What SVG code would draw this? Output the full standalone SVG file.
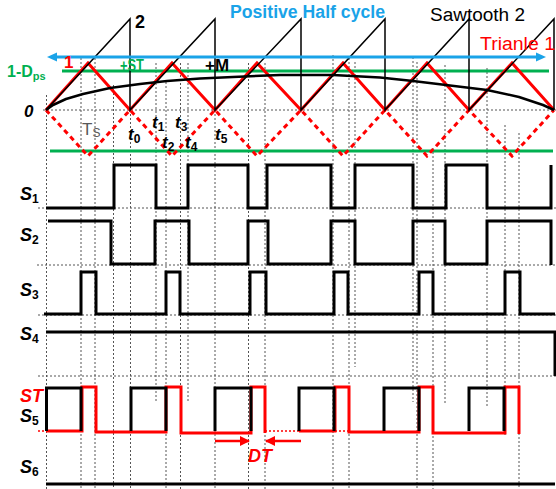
<svg xmlns="http://www.w3.org/2000/svg" width="556" height="489" viewBox="0 0 556 489">
<defs>
<style>
.dot{stroke:#555;stroke-width:1;stroke-dasharray:2,2;fill:none}
.sig{stroke:#000;stroke-width:3;fill:none;stroke-linejoin:miter}
.red{stroke:#f00;stroke-width:3;fill:none}
.redd{stroke:#f00;stroke-width:3;stroke-dasharray:5,4;fill:none}
.blk{stroke:#000;stroke-width:1.5;fill:none}
.grn{stroke:#00b050;stroke-width:3;fill:none}
.lab{font-family:"Liberation Sans",Arial,sans-serif;font-weight:bold;font-style:italic;font-size:18px;fill:#000}
.sub{font-size:12px}
.t{font-family:"Liberation Sans",Arial,sans-serif;font-weight:bold;font-style:italic;font-size:17px;fill:#000}
</style>
<marker id="ab" markerWidth="10" markerHeight="10" refX="2" refY="5" orient="auto-start-reverse" markerUnits="userSpaceOnUse"><path d="M0,0.5 L10,5 L0,9.5 z" fill="#1aa3e8"/></marker>
<marker id="ar" markerWidth="10" markerHeight="10" refX="9" refY="5" orient="auto" markerUnits="userSpaceOnUse"><path d="M0,0 L10,5 L0,10 z" fill="#f00"/></marker>
</defs>
<rect width="556" height="489" fill="#fff"/>
<g id="grid">
<path class="dot" d="M43,110H556M38,208H556M37,265H556M38,315H556M38,376H556"/>
<path class="dot" d="M46.5,95V489M81,58V489M95,58V489M113.5,85V489M130.5,110V489M156,63V402M166,82V489M180.5,63V489M188,63V402M215,110V489M248.5,63V489M265,63V489M333,55V489M349,58V489M355,62V367M413,57V402M417,62V489M433,148V489M445,65V403M487,68V407M505,125V437M519,133V489"/>
<path d="M38,431H46M265,431H300M335,431H349" stroke="#f00" stroke-width="1.5" stroke-dasharray="2,2" fill="none"/>
</g>
<g id="carriers">
<line class="grn" x1="62" y1="71" x2="549" y2="71"/>
<line class="grn" x1="50" y1="151" x2="553" y2="151"/>
<path class="redd" d="M46,110L88,156L130,110L172,156L215,110L257,156L301,110L343,156L385,110L427,156L469,110L512,156L554,110"/>
<path class="red" d="M46,110L88,63L130,110L172,63L215,110L257,63L301,110L343,63L385,110L427,63L469,110L512,63L554,110" stroke-linejoin="miter"/>
<path class="blk" d="M46,110L130,19V110L215,19V110L301,19V110L385,19V110L469,19V110L554,19V110"/>
<polyline fill="none" stroke="#000" stroke-width="2.5" stroke-linejoin="round" points="46,110 53,105 66,99 83,94 110,88 140,84 167,81 200,78.5 233,77 280,75 333,75 380,77.5 413,81 446,85 487,90 519,97 543,105 554,110"/>
<line x1="55" y1="57" x2="538" y2="57" stroke="#1aa3e8" stroke-width="3" marker-start="url(#ab)" marker-end="url(#ab)"/>
</g>
<g id="top-labels" font-family="'Liberation Sans',Arial,sans-serif">
<text x="230" y="18" font-size="18" font-weight="bold" fill="#1aa3e8" textLength="155" lengthAdjust="spacingAndGlyphs">Positive Half cycle</text>
<text x="430" y="21" font-size="18" fill="#000" textLength="95" lengthAdjust="spacingAndGlyphs">Sawtooth 2</text>
<text x="480" y="50" font-size="18" fill="#f00" textLength="75" lengthAdjust="spacingAndGlyphs">Trianle 1</text>
<text x="135" y="28" font-size="18" font-weight="bold" fill="#000">2</text>
<text x="7" y="77" font-size="16" font-weight="bold" fill="#00b050">1-D<tspan font-size="11" dy="3">ps</tspan></text>
<text x="64" y="68" font-size="17" font-weight="bold" fill="#f00">1</text>
<text x="120" y="71" font-size="16" font-weight="bold" fill="#00b050" textLength="24" lengthAdjust="spacingAndGlyphs">+ST</text>
<text x="205" y="71" font-size="16" font-weight="bold" fill="#000" textLength="24" lengthAdjust="spacingAndGlyphs">+M</text>
<text x="24" y="117" class="t" font-size="18">0</text>
<text x="82" y="135" font-size="17" fill="#595959">T<tspan font-size="12" dy="2">S</tspan></text>
<text x="128" y="140" class="t">t<tspan class="sub" dy="3" font-style="normal">0</tspan></text>
<text x="152" y="128" class="t">t<tspan class="sub" dy="3" font-style="normal">1</tspan></text>
<text x="162" y="148" class="t">t<tspan class="sub" dy="3" font-style="normal">2</tspan></text>
<text x="175" y="128" class="t">t<tspan class="sub" dy="3" font-style="normal">3</tspan></text>
<text x="185" y="148" class="t">t<tspan class="sub" dy="3" font-style="normal">4</tspan></text>
<text x="215" y="140" class="t">t<tspan class="sub" dy="3" font-style="normal">5</tspan></text>
</g>
<g id="S1"><path class="sig" d="M46,208H114V165H156V208H188V165H248V208H267V165H331V208H355V165H413V208H446V165H487V208H551V165"/>
<text class="lab" x="20" y="200">S<tspan class="sub" dy="3" font-style="normal">1</tspan></text></g>
<g id="S2"><path class="sig" d="M48,221H111V264H155V221H189V264H248V221H268V264H331V221H355V264H413V221H445V264H487V221H551V265"/>
<text class="lab" x="20" y="241">S<tspan class="sub" dy="3" font-style="normal">2</tspan></text></g>
<g id="S3"><path class="sig" d="M44,314H81V272H96V314H166V272H180V314H250V272H266V314H334V272H348V314H419V272H433V314H505V272H520V314H555"/>
<text class="lab" x="20" y="296">S<tspan class="sub" dy="3" font-style="normal">3</tspan></text></g>
<g id="S4"><path class="sig" d="M46,332H555V376"/>
<text class="lab" x="20" y="340">S<tspan class="sub" dy="3" font-style="normal">4</tspan></text></g>
<g id="ST"><path class="red" d="M46,431H82V387H96V432H166V387H181V433H251V387H265V433"/>
<path class="red" d="M299,431H335V387H349V432H419V387H433V433H505V387H519V434"/>
<text class="lab" x="20" y="402" style="fill:#f00">ST</text></g>
<g id="S5"><path class="sig" d="M46.5,431V388H81V431M131,431V388H166V431M215,431V388H251V431M299,431V388H334V431M384,431V388H419V431M469,431V388H504V431"/>
<text class="lab" x="20" y="422">S<tspan class="sub" dy="3" font-style="normal">5</tspan></text></g>
<g id="DT"><line x1="215" y1="441" x2="249" y2="441" stroke="#f00" stroke-width="2.5" marker-end="url(#ar)"/>
<line x1="301" y1="441" x2="266" y2="441" stroke="#f00" stroke-width="2.5" marker-end="url(#ar)"/>
<text class="lab" x="248" y="462" font-size="19" style="fill:#f00">DT</text></g>
<g id="S6"><path class="sig" d="M46,484H555"/>
<text class="lab" x="20" y="473">S<tspan class="sub" dy="3" font-style="normal">6</tspan></text></g>
</svg>
